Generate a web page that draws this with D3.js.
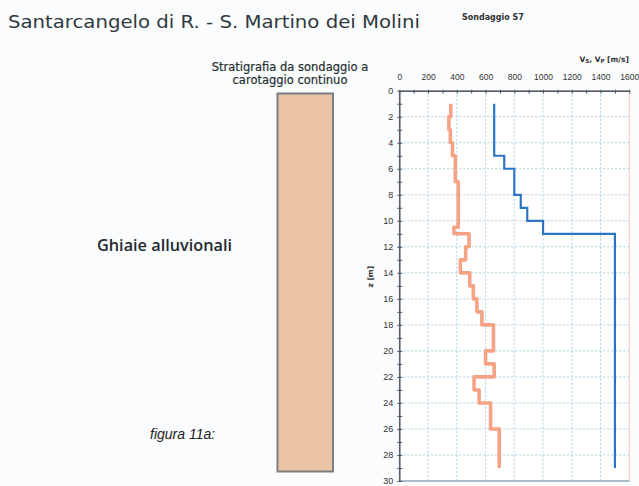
<!DOCTYPE html>
<html>
<head>
<meta charset="utf-8">
<script src="https://cdn.jsdelivr.net/npm/d3@7"></script>
<style>
body { margin: 0; background: #fbfcfd; }
svg { display: block; }
</style>
</head>
<body>
<svg id="chart"></svg>
<script>
var width  = 639;
var height = 486;

// Vs profile (orange) - step segments: [depth top, depth bottom, value]
var vsSteps = [
    [1, 2, 358], [2, 3, 345], [3, 4, 355], [4, 5, 370], [5, 7, 390],
    [7, 10.5, 410], [10.5, 11, 380], [11, 12, 485], [12, 13, 462],
    [13, 14, 425], [14, 15, 490], [15, 16, 515], [16, 17, 540],
    [17, 18, 575], [18, 20, 655], [20, 21, 600], [21, 22, 660],
    [22, 23, 520], [23, 24, 555], [24, 26, 635], [26, 29, 695]
];
// Vp profile (blue)
var vpSteps = [
    [1, 5, 660], [5, 6, 730], [6, 8, 800], [8, 9, 845],
    [9, 10, 890], [10, 11, 1000], [11, 29, 1500]
];
var xTicks = [0, 200, 400, 600, 800, 1000, 1200, 1400, 1600];
var yTicks = d3.range(0, 31, 2);

var x = d3.scaleLinear().domain([0, 1600]).range([399.3, 629.3]);
var y = d3.scaleLinear().domain([0, 30]).range([90.7, 481]);

var svg = d3.select('#chart')
    .attr('width', width)
    .attr('height', height);

// title
svg.append('text')
    .attr('x', 8)
    .attr('y', 28)
    .attr('font-family', 'DejaVu Sans')
    .attr('font-size', 18.5)
    .attr('fill', '#2f393d')
    .attr('textLength', 412)
    .attr('lengthAdjust', 'spacingAndGlyphs')
    .text('Santarcangelo di R. - S. Martino dei Molini');

svg.append('text')
    .attr('x', 462)
    .attr('y', 20)
    .attr('font-family', 'DejaVu Sans')
    .attr('font-size', 8)
    .attr('font-weight', 'bold')
    .attr('fill', '#333')
    .text('Sondaggio S7');

// stratigraphy column
svg.append('text')
    .attr('x', 290)
    .attr('y', 71)
    .attr('text-anchor', 'middle')
    .attr('font-family', 'DejaVu Sans')
    .attr('font-size', 11.5)
    .attr('fill', '#23302f')
    .attr('stroke', '#23302f')
    .attr('stroke-width', 0.2)
    .selectAll('tspan')
    .data(['Stratigrafia da sondaggio a', 'carotaggio continuo'])
    .enter()
    .append('tspan')
        .attr('x', 290)
        .attr('dy', (d, i) => i ? 13 : 0)
        .text(d => d);

svg.append('rect')
    .attr('x', 277.5)
    .attr('y', 93.5)
    .attr('width', 55.5)
    .attr('height', 378)
    .attr('fill', '#ecc3a3')
    .attr('stroke', '#7b7f84')
    .attr('stroke-width', 2);

svg.append('text')
    .attr('x', 97)
    .attr('y', 251)
    .attr('font-family', 'Open Sans')
    .attr('font-size', 17)
    .attr('font-weight', 600)
    .attr('fill', '#1f2a2e')
    .attr('textLength', 135)
    .attr('lengthAdjust', 'spacingAndGlyphs')
    .text('Ghiaie alluvionali');

svg.append('text')
    .attr('x', 150)
    .attr('y', 439)
    .attr('font-family', 'Liberation Sans')
    .attr('font-size', 14)
    .attr('font-style', 'italic')
    .attr('fill', '#222')
    .text('figura 11a:');

// plot area
var plot = svg.append('g');

plot.append('rect')
    .attr('x', x(0))
    .attr('y', y(0))
    .attr('width', x(1600) - x(0))
    .attr('height', y(30) - y(0))
    .attr('fill', '#ffffff')
    .attr('stroke', '#f2c7b5')
    .attr('stroke-width', 1);

// grid
plot.append('g')
    .selectAll('line')
    .data(xTicks.slice(1, -1))
    .enter()
    .append('line')
        .attr('x1', d => x(d))
        .attr('x2', d => x(d))
        .attr('y1', y(0))
        .attr('y2', y(30))
        .attr('stroke', '#a9cde0')
        .attr('stroke-dasharray', '2,2');

plot.append('g')
    .selectAll('line')
    .data(yTicks.slice(1, -1))
    .enter()
    .append('line')
        .attr('x1', x(0))
        .attr('x2', x(1600))
        .attr('y1', d => y(d))
        .attr('y2', d => y(d))
        .attr('stroke', '#a9cde0')
        .attr('stroke-dasharray', '2,2');

plot.append('line')
    .attr('x1', x(0)).attr('x2', x(1600))
    .attr('y1', y(30)).attr('y2', y(30))
    .attr('stroke', '#8fb0c8')
    .attr('stroke-width', 1.5);

// axes
var xAxis = d3.axisTop(x)
    .tickValues(d3.range(0, 1601, 100))
    .tickSize(3)
    .tickSizeOuter(0)
    .tickFormat(d => d % 200 === 0 ? d : '');

var yAxis = d3.axisLeft(y)
    .tickValues(d3.range(0, 31, 1))
    .tickSize(3)
    .tickSizeOuter(0)
    .tickFormat(d => d % 2 === 0 ? d : '');

var gx = svg.append('g')
    .attr('transform', 'translate(0,' + y(0) + ')')
    .call(xAxis);
gx.selectAll('.tick line').attr('y2', 3).attr('y1', -1);
gx.selectAll('text')
    .attr('y', -11)
    .attr('font-family', 'Liberation Sans')
    .attr('font-size', 8.5)
    .attr('fill', '#333');

var gy = svg.append('g')
    .attr('transform', 'translate(' + x(0) + ',0)')
    .call(yAxis);
gy.selectAll('.tick line').attr('x2', 3).attr('x1', -2);
gy.selectAll('text')
    .attr('x', -6)
    .attr('font-family', 'Liberation Sans')
    .attr('font-size', 9)
    .attr('fill', '#333');

[gx, gy].forEach(function (g) {
    g.select('.domain').attr('stroke', '#4a5a6a').attr('stroke-width', 1.5);
    g.selectAll('.tick line').attr('stroke', '#4a5a6a');
});

svg.append('text')
    .attr('x', 629)
    .attr('y', 62)
    .attr('text-anchor', 'end')
    .attr('font-family', 'DejaVu Sans')
    .attr('font-size', 7.5)
    .attr('font-weight', 'bold')
    .attr('fill', '#333')
    .html('V<tspan font-size="5.5" dy="1">S</tspan><tspan dy="-1">, V</tspan><tspan font-size="5.5" dy="1">P</tspan><tspan dy="-1"> [m/s]</tspan>');

svg.append('text')
    .attr('transform', 'translate(373,' + y(14.3) + ') rotate(-90)')
    .attr('text-anchor', 'middle')
    .attr('font-family', 'DejaVu Sans')
    .attr('font-size', 7.5)
    .attr('font-weight', 'bold')
    .attr('fill', '#333')
    .text('z [m]');

// profiles
function stepPoints(steps) {
    var pts = [];
    steps.forEach(function (s) {
        pts.push([s[2], s[0]]);
        pts.push([s[2], s[1]]);
    });
    return pts;
}

var line = d3.line()
    .x(d => x(d[0]))
    .y(d => y(d[1]));

plot.append('path')
    .datum(stepPoints(vsSteps))
    .attr('d', line)
    .attr('fill', 'none')
    .attr('stroke', '#f5a285')
    .attr('stroke-width', 3.6)
    .attr('stroke-linejoin', 'round');

plot.append('path')
    .datum(stepPoints(vpSteps))
    .attr('d', line)
    .attr('fill', 'none')
    .attr('stroke', '#2d75c4')
    .attr('stroke-width', 2.2);
</script>
</body>
</html>
